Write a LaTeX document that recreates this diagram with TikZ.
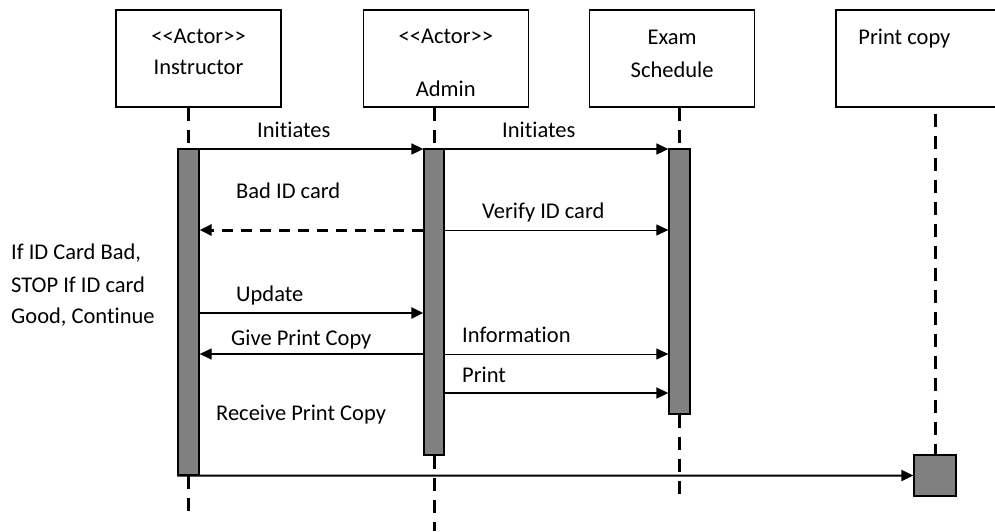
\documentclass[tikz,border=0pt]{standalone}
\usepackage{fontspec}
\setmainfont{Carlito}[Ligatures={NoCommon}]
\usetikzlibrary{arrows.meta, positioning, calc}

\begin{document}
\begin{tikzpicture}[x=1pt,y=-1pt,>={Triangle[length=12pt,width=11pt]},
		font=\fontsize{22.5}{27}\selectfont,
		obj node/.style={draw,line width=1.3pt,minimum width=165pt,minimum height=97pt,inner sep=0pt},
		bar node/.style={draw,fill=black!50,line width=1.3pt,minimum width=21pt,inner sep=0pt},
		life line/.style={line width=3pt,dash pattern=on 13pt off 9pt},
		lbl/.style={anchor=base west,inner sep=0pt},
		title/.style={anchor=base,inner sep=0pt}]
	
	\useasboundingbox (0,0) rectangle (995,531);
	
	% objects
	\node[obj node] (instr) at (198.5,58.5) {};
	\node[obj node] (admin) [right=81pt of instr] {};
	\node[obj node] (exam) [right=60pt of admin] {};
	\node[obj node,minimum width=161pt] (print) [right=80pt of exam] {};
	
	\node[title] (instrA) at ($(instr.north)+(0,34)$) {<\kern0pt<Actor>\kern0pt>};
	\node[title] (instrB) at ($(instr.north)+(0,65)$) {Instructor};
	\node[title] (adminA) at ($(admin.north)+(0,34)$) {<\kern0pt<Actor>\kern0pt>};
	\node[title] (adminB) at ($(admin.north)+(0,87)$) {Admin};
	\node[title] (examA) at ($(exam.north)+(0,35)$) {Exam};
	\node[title] (examB) at ($(exam.north)+(0,68)$) {Schedule};
	\node[title] (printA) at ($(print.north)+(-12,35)$) {Print copy};
	
	% activations
	\node[bar node,minimum height=326pt] (ibar) at (188.5,312) {};
	\node[bar node,minimum height=306pt,minimum width=20pt] (abar) at (434,302) {};
	\node[bar node,minimum height=265pt] (ebar) at (679.5,281.5) {};
	\node[bar node,minimum height=41pt,minimum width=42pt] (pbox) at (935,475.5) {};
	
	% lifelines
	\coordinate (iend) at (188.5,518);
	\coordinate (aend) at (434,531);
	\coordinate (eend) at (679.5,495);
	\draw[life line] (ibar.north |- instr.south) -- (ibar.north);
	\draw[life line] (ibar.south) -- (iend);
	\draw[life line] (abar.north |- admin.south) -- (abar.north);
	\draw[life line] (abar.south) -- (aend);
	\draw[life line] (ebar.north |- exam.south) -- (ebar.north);
	\draw[life line] (ebar.south) -- (eend);
	\draw[life line,shorten <=6pt] (pbox.north |- print.south) -- (pbox.north);
	
	% messages
	\coordinate (m1) at (0,149);
	\coordinate (m2) at (0,230);
	\coordinate (m3) at (0,313);
	\coordinate (m4) at (0,354);
	\coordinate (m5) at (0,393);
	
	\draw[->,line width=1.7pt] (ibar.east |- m1) -- (abar.west |- m1);
	\draw[->,line width=1.7pt] (abar.east |- m1) -- (ebar.west |- m1);
	\draw[->,line width=3pt,dash pattern=on 11pt off 8pt] (abar.west |- m2) -- (ibar.east |- m2);
	\draw[->,line width=1pt] (abar.east |- m2) -- (ebar.west |- m2);
	\draw[->,line width=2.5pt] (ibar.east |- m3) -- (abar.west |- m3);
	\draw[->,line width=1.3pt] (abar.west |- m4) -- (ibar.east |- m4);
	\draw[->,line width=1pt] (abar.east |- m4) -- (ebar.west |- m4);
	\draw[->,line width=1.7pt] (abar.east |- m5) -- (ebar.west |- m5);
	\draw[->,line width=2pt] (ibar.south west) -- (pbox.west);
	
	\node[lbl] (lInit1) at (257,137) {Initiates};
	\node[lbl] (lInit2) at (502,137) {Initiates};
	\node[lbl] (lBad) at (236,198) {Bad ID card};
	\node[lbl] (lVerify) at (482,218) {Verify ID card};
	\node[lbl] (lUpdate) at (236,301) {Update};
	\node[lbl] (lGive) at (231,345) {Give Print Copy};
	\node[lbl] (lInfo) at (462,342) {Information};
	\node[lbl] (lPrint) at (462,382) {Print};
	\node[lbl] (lRecv) at (216,420) {Receive Print Copy};
	
	% guard note
	\node[lbl] (note1) at (11,259) {If ID Card Bad,};
	\node[lbl] (note2) at (11,292) {STOP If ID card};
	\node[lbl] (note3) at (11,323) {Good, Continue};
	
\end{tikzpicture}
\end{document}
